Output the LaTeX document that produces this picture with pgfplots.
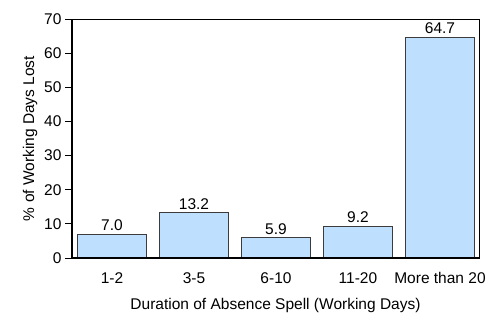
\documentclass[border=0pt]{standalone}
\usepackage{fontspec}
\setmainfont{Liberation Sans}
\usepackage{pgfplots}
\pgfplotsset{compat=1.18}
\definecolor{barfill}{RGB}{191,223,255}
\definecolor{baredge}{RGB}{60,60,60}
\begin{document}
\begin{tikzpicture}[x=1bp,y=1bp]
\useasboundingbox (0,0) rectangle (499,312);
\begin{axis}[
  at={(72bp,54bp)}, anchor=south west,
  width=407bp, height=239bp, scale only axis,
  xmin=-0.488, xmax=4.476, ymin=0, ymax=70,
  ytick={0,10,...,70},
  ytick pos=left,
  xtick={0,1,2,3,4},
  xticklabels={1-2,3-5,6-10,11-20,More than 20},
  xtick style={draw=none},
  ytick style={black, line width=0.8bp},
  tick align=outside, major tick length=7bp,
  /pgf/number format/assume math mode=true,
  font=\fontsize{15.5bp}{18bp}\selectfont,
  axis line style={black, line width=0.8bp},
  xticklabel style={yshift=-4bp},
  xlabel={Duration of Absence Spell (Working Days)},
  xlabel style={yshift=-8bp},
  ylabel={\% of Working Days Lost},
  ylabel style={yshift=0bp},
  clip=false,
  ybar, bar width=0.83,
  nodes near coords={\pgfmathprintnumber[fixed,fixed zerofill,precision=1]{\pgfplotspointmeta}},
  nodes near coords style={font=\fontsize{15.5bp}{18bp}\selectfont, inner sep=1bp, yshift=2bp},
]
\addplot[fill=barfill, draw=baredge, line width=1bp] coordinates {(0,7.0) (1,13.2) (2,5.9) (3,9.2) (4,64.7)};
\draw[black, line width=2.2bp] (rel axis cs:0,1) -- (rel axis cs:0,0) -- (rel axis cs:1,0);
\end{axis}
\end{tikzpicture}
\end{document}
